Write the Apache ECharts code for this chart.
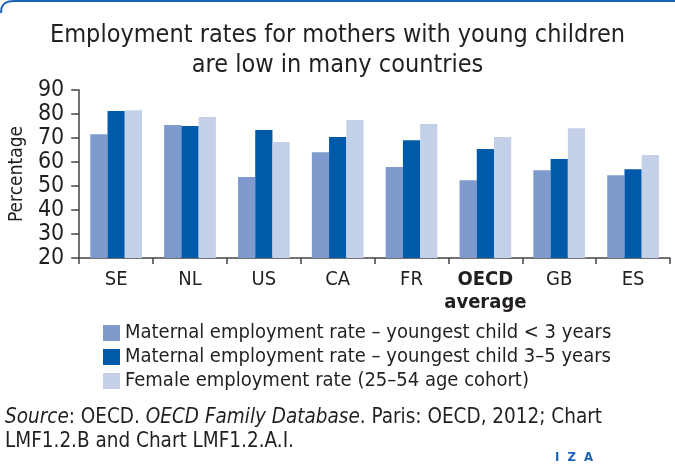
<!DOCTYPE html>
<html>
<head>
<meta charset="utf-8">
<script src="https://cdn.jsdelivr.net/npm/echarts@6/dist/echarts.min.js"></script>
<style>
html,body{margin:0;padding:0;background:#fff;}
#chart{width:675px;height:466px;}
</style>
</head>
<body>
<div id="chart"></div>
<script>
const categories = ['SE', 'NL', 'US', 'CA', 'FR', 'OECD average', 'GB', 'ES'];
const seriesNames = [
  'Maternal employment rate – youngest child < 3 years',
  'Maternal employment rate – youngest child 3–5 years',
  'Female employment rate (25–54 age cohort)'
];
const under3 = [71.6, 75.4, 53.7, 64.1, 57.9, 52.4, 56.6, 54.5];
const age3to5 = [81.2, 75.0, 73.3, 70.4, 69.1, 65.4, 61.2, 57.0];
const female = [81.6, 78.7, 68.3, 77.5, 75.8, 70.4, 74.1, 62.9];
const yTicks = [20, 30, 40, 50, 60, 70, 80, 90];

const FONT = "'Liberation Sans Narrow', 'DejaVu Sans Condensed', 'Roboto Condensed', sans-serif";
const TXT = '#231f20';
const colors = ['#7f9acc', '#005aaa', '#c4cfe8'];

const chart = echarts.init(document.getElementById('chart'), null, {renderer: 'canvas'});
chart.setOption({
  animation: false,
  textStyle: {fontFamily: FONT, color: TXT},
  title: {
    text: 'Employment rates for mothers with young children\nare low in many countries',
    left: 'center',
    top: 15,
    textStyle: {fontFamily: FONT, fontSize: 25, fontWeight: 'normal', color: TXT, lineHeight: 30}
  },
  legend: {
    orient: 'vertical',
    left: 103,
    top: 323,
    padding: 0,
    itemWidth: 17,
    itemHeight: 16,
    itemGap: 4,
    icon: 'rect',
    textStyle: {fontFamily: FONT, fontSize: 20, color: TXT, lineHeight: 16, padding: [0, 0, 0, 0]},
    data: seriesNames
  },
  grid: {left: 77, right: 5, top: 90, bottom: 208, containLabel: false},
  xAxis: {
    type: 'category',
    data: categories,
    axisLine: {lineStyle: {color: '#444', width: 1.5}},
    axisTick: {show: true, interval: 0, length: 6, lineStyle: {color: '#444', width: 1.5}},
    axisLabel: {
      interval: 0,
      fontFamily: FONT, fontSize: 20, color: TXT, margin: 10, lineHeight: 23,
      formatter: function (v) {
        if (v === 'OECD average') return '{b|OECD}\n{b|average}';
        return v;
      },
      rich: {b: {fontFamily: FONT, fontSize: 20, fontWeight: 'bold', color: TXT, lineHeight: 23}}
    }
  },
  yAxis: {
    type: 'value',
    min: 20, max: 90, interval: 10,
    name: 'Percentage',
    nameLocation: 'middle',
    nameGap: 52,
    nameTextStyle: {fontFamily: FONT, fontSize: 19, color: TXT},
    axisLine: {show: true, lineStyle: {color: '#444', width: 1.5}},
    axisTick: {show: true, length: 8, lineStyle: {color: '#444', width: 1.5}},
    splitLine: {show: false},
    axisLabel: {
      fontFamily: FONT, fontSize: 23, color: TXT, margin: 15,
      formatter: function (v) { return yTicks.indexOf(v) >= 0 ? String(v) : ''; }
    }
  },
  series: [
    {name: seriesNames[0], type: 'bar', data: under3, itemStyle: {color: colors[0]}, barGap: '0%', barCategoryGap: '30%'},
    {name: seriesNames[1], type: 'bar', data: age3to5, itemStyle: {color: colors[1]}, barGap: '0%', barCategoryGap: '30%'},
    {name: seriesNames[2], type: 'bar', data: female, itemStyle: {color: colors[2]}, barGap: '0%', barCategoryGap: '30%'}
  ],
  graphic: [
    {type: 'polyline', shape: {points: [[1, 13], [1.5, 8], [3, 5], [5.5, 2.8], [9, 1.5], [14, 1], [675, 1]]}, style: {stroke: '#1b63b5', lineWidth: 2, fill: null}},
    {
      type: 'text', left: 5, top: 406,
      style: {
        text: '{i|Source}: OECD. {i|OECD Family Database}. Paris: OECD, 2012; Chart\nLMF1.2.B and Chart LMF1.2.A.I.',
        font: '20.5px ' + FONT, fill: TXT, lineHeight: 24,
        rich: {i: {fontStyle: 'italic', fontFamily: FONT, fontSize: 20.5, fill: TXT}}
      }
    },
    {
      type: 'text', left: 555, top: 451,
      style: {text: 'I  Z  A', font: 'bold 13px ' + FONT, fill: '#1b63b5'}
    }
  ]
});
</script>
</body>
</html>
